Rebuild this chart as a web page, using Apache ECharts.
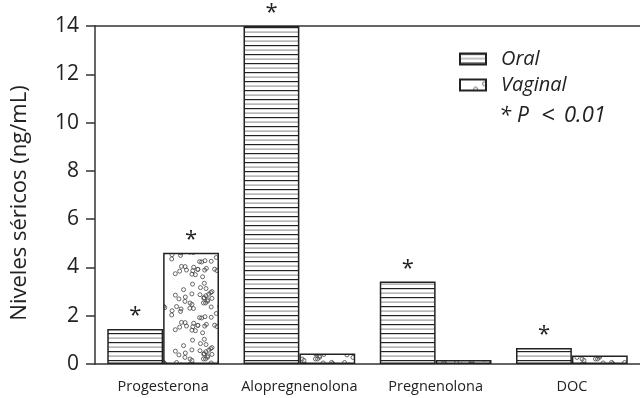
<!DOCTYPE html>
<html><head><meta charset="utf-8">
<script src="https://cdn.jsdelivr.net/npm/echarts@6/dist/echarts.min.js"></script>
<style>html,body{margin:0;padding:0;background:#fff}#c{width:640px;height:398px}</style>
</head><body><div id="c"></div>
<script>
var categories = ['Progesterona', 'Alopregnenolona', 'Pregnenolona', 'DOC'];
var oralValues = [1.45, 14.0, 3.42, 0.66];
var vaginalValues = [4.61, 0.44, 0.17, 0.35];
var oralSig = [true, true, true, true];
var vaginalSig = [true, false, false, false];
var yTicks = [0, 2, 4, 6, 8, 10, 12, 14];
var yTitle = 'Niveles séricos (ng/mL)';

function stripePattern() {
  var c = document.createElement('canvas');
  c.width = 8; c.height = 9;
  var g = c.getContext('2d');
  g.fillStyle = '#fff'; g.fillRect(0, 0, 8, 9);
  g.fillStyle = '#222'; g.fillRect(0, 0, 8, 1.2);
  g.fillStyle = '#9a9a9a'; g.fillRect(0, 4.5, 8, 1.2);
  return c;
}
function dotPattern() {
  var c = document.createElement('canvas');
  var S = 56;
  c.width = S; c.height = S;
  var g = c.getContext('2d');
  g.fillStyle = '#fff'; g.fillRect(0, 0, S, S);
  g.strokeStyle = '#444'; g.lineWidth = 0.8;
  var s = 12345;
  function r() { s = (s * 1103515245 + 12345) % 2147483648; return s / 2147483648; }
  for (var i = 0; i < 55; i++) {
    var x = 3 + r() * (S - 6), y = 3 + r() * (S - 6);
    g.beginPath(); g.arc(x, y, 2, 0, Math.PI * 2); g.stroke();
  }
  return c;
}

var font = '"Open Sans", sans-serif';
var chart = echarts.init(document.getElementById('c'));
function starLabel(sig) {
  return {
    show: true, position: 'top', distance: 2,
    fontSize: 22, fontFamily: font, color: '#222',
    formatter: function (p) { return sig[p.dataIndex] ? '*' : ''; }
  };
}
function legPiece(x, txt, size) {
  return { type: 'text', x: x, y: 116, style: { text: txt, fontSize: size, fontStyle: 'italic', fontFamily: font, fill: '#222', textAlign: 'left', textVerticalAlign: 'middle' } };
}
chart.setOption({
  animation: false,
  grid: { left: 95, top: 26, bottom: 34, width: 548 },
  legend: {
    orient: 'vertical', left: 459, top: 49, padding: 0, itemWidth: 26, itemHeight: 11, itemGap: 6,
    icon: 'rect',
    textStyle: { fontSize: 20, fontStyle: 'italic', fontFamily: font, color: '#222', padding: [0, 0, 0, 10] },
    data: ['Oral', 'Vaginal']
  },
  graphic: [
    legPiece(499, '*', 22),
    legPiece(517, 'P', 21),
    legPiece(541, '<', 24),
    legPiece(564, '0.01', 22),
    { type: 'text', x: 20, y: 203, rotation: Math.PI / 2,
      style: { text: yTitle, fontSize: 22, fontFamily: font, fill: '#222', textAlign: 'center', textVerticalAlign: 'middle' } }
  ],
  xAxis: [{
    type: 'category', data: categories,
    axisLine: { lineStyle: { color: '#333', width: 1.5 } },
    axisTick: { length: 12, lineStyle: { color: '#333', width: 1.5 } },
    axisLabel: { interval: 0, fontSize: 14.5, fontFamily: font, color: '#222', margin: 15 }
  }, {
    type: 'category', position: 'top', data: categories,
    axisLine: { lineStyle: { color: '#333', width: 1.5 } },
    axisTick: { show: false }, axisLabel: { show: false }
  }],
  yAxis: {
    type: 'value', min: yTicks[0], max: yTicks[yTicks.length - 1], interval: 2,
    axisLine: { show: true, lineStyle: { color: '#333', width: 1.5 } },
    axisTick: { show: true, length: 9, lineStyle: { color: '#333', width: 1.5 } },
    axisLabel: { fontSize: 21, fontFamily: font, color: '#222', margin: 16 },
    splitLine: { show: false }
  },
  series: [{
    name: 'Oral', type: 'bar', data: oralValues, barGap: '0%', barCategoryGap: '18%',
    itemStyle: { color: { image: stripePattern(), repeat: 'repeat' }, borderColor: '#222', borderWidth: 1.5 },
    label: starLabel(oralSig)
  }, {
    name: 'Vaginal', type: 'bar', data: vaginalValues,
    itemStyle: { color: { image: dotPattern(), repeat: 'repeat' }, borderColor: '#222', borderWidth: 1.5 },
    label: starLabel(vaginalSig)
  }]
});
</script></body></html>
